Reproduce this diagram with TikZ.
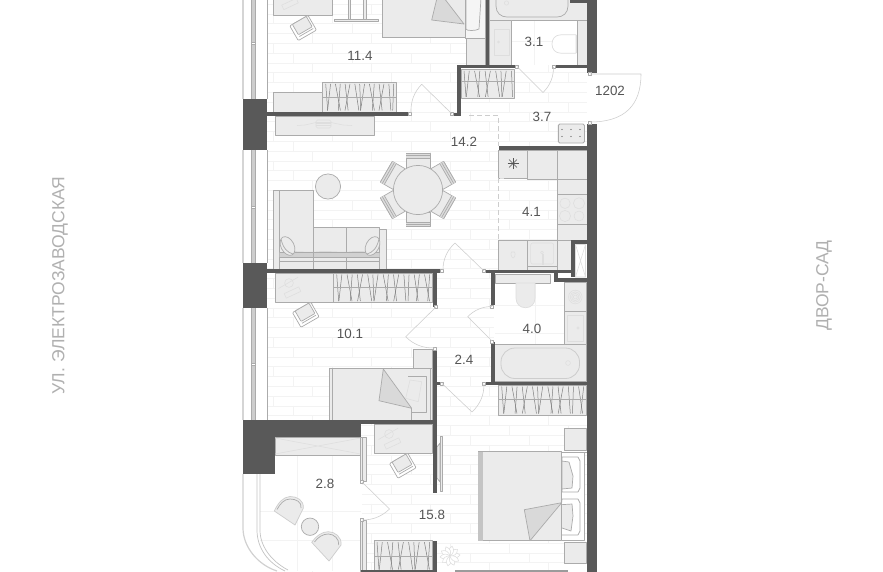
\documentclass[tikz,border=0pt]{standalone}
\usepackage{fontspec}
\setmainfont{Liberation Sans}
\usetikzlibrary{calc}
\definecolor{wallc}{HTML}{595959}
\definecolor{furn}{HTML}{EBEBEB}
\definecolor{linec}{HTML}{ABABAB}
\definecolor{brick}{HTML}{F3F3F3}
\definecolor{txt}{HTML}{555555}
\definecolor{sidetxt}{HTML}{B0B0B0}
\definecolor{hangc}{HTML}{7E7E7E}
\tikzset{
 wallp/.style={fill=wallc,draw=none},
 furnp/.style={fill=furn,draw=linec,line width=.7pt},
 thin line/.style={draw=linec,line width=.7pt},
 fine/.style={draw=linec!130!black,line width=.55pt},
 hangl/.style={draw=hangc,line width=.5pt},
 doorl/.style={draw=linec!120!black,line width=.55pt},
 jambp/.style={fill=white,draw=linec,line width=.6pt},
 label/.style={text=txt,font=\fontsize{13.4}{15}\selectfont,inner sep=0pt},
 sidelabel/.style={text=sidetxt,font=\fontsize{17.5}{19}\selectfont,inner sep=0pt,rotate=90},
}
\newcommand{\swingf}[7]{%
 \coordinate (swH) at (#1,#2); \coordinate (swT) at (#3,#4); \coordinate (swE) at (#5,#6);
 \coordinate (swC) at ($(swH)+#7*(swT)+#7*(swE)-2*#7*(swH)$);
 \draw[doorl] (swH) -- (swT) .. controls ($(swT)!0.667!(swC)$) and ($(swE)!0.667!(swC)$) .. (swE);
 }
\newcommand{\swing}[6]{\swingf{#1}{#2}{#3}{#4}{#5}{#6}{0.586}}
\newcommand{\jamb}[2]{\draw[jambp] (#1-1.7,#2-1.7) rectangle (#1+1.7,#2+1.7);}
\newcommand{\hangers}[5]{% x1 x2 y1 y2 count
 \pgfmathsetmacro{\hstep}{(#2-#1-6)/#5}
 \foreach \i in {0,...,#5}{
  \pgfmathsetmacro{\hx}{#1+3+\i*\hstep}
  \pgfmathsetmacro{\hoff}{{2,-3,5,-2,3,-5,4,1,-4,5,-2,3,-5,2,-1,4,-3,5,-2,2,-3,4,-2,3,-3}[mod(\i,25)]}
  \pgfmathsetmacro{\hxb}{max(#1+2,min(#2-2,\hx+\hoff))}
  \draw[hangl] (\hx,#3+1.5) -- (\hxb,#4-1.5);
 }}
\newcommand{\wardrobe}[6]{% x1 y1 x2 y2 ymid count
 \draw[furnp] (#1,#2) rectangle (#3,#4);
 \hangers{#1}{#3}{#2}{#4}{#6}
 \draw[thin line] (#1,#5) -- (#3,#5);}
\newcommand{\officechair}[2]{%
 \begin{scope}[shift={(#1,#2)},rotate=30]
  \draw[furnp,fill=white,rounded corners=1pt] (-11,-8) rectangle (10,9);
  \draw[furnp,rounded corners=.8pt] (-8,-8) rectangle (8,4);
  \draw[thin line] (-8,6) -- (8,6);
 \end{scope}}
\newcommand{\desklamp}[2]{%
 \draw[fine] (#1,#2) circle (4.4);
 \draw[fine] (#1-10.5,#2+5.5) -- (#1+9,#2-5.8);
 \begin{scope}[shift={(#1+3.5,#2+9.5)},rotate=25]
  \draw[fine,fill=furn] (-8,-2.5) rectangle (8,2.5);
 \end{scope}}
\newcommand{\dinechair}[1]{%
 \begin{scope}[shift={(418,190)},rotate=#1]
  \draw[furnp] (22,-12) rectangle (36.5,12);
  \fill[linec!40] (32,-12) rectangle (36.5,12);
  \draw[thin line] (32,-12) -- (32,12) (34.2,-12) -- (34.2,12) (36.5,-12) -- (36.5,12);
 \end{scope}}
\begin{document}
\begin{tikzpicture}[x=1pt,y=-1pt,line join=round]
\useasboundingbox (0,0) rectangle (883,571);
\fill[white] (0,0) rectangle (883,571);
% brick floor
\begin{scope}
 \clip (267,0) rectangle (587,571);
 \foreach \r in {0,...,58}{
  \pgfmathsetmacro{\yy}{4.1+9.8*\r}
  \draw[brick,line width=.8pt] (267,\yy) -- (587,\yy);
  \pgfmathsetmacro{\ss}{273.3+19.6*mod(\r-4,3)-59}
  \foreach \c in {0,...,6}{
   \pgfmathsetmacro{\xx}{\ss+59*\c}
   \draw[brick,line width=.8pt] (\xx,\yy) -- (\xx,\yy+9.8);
  }
 }
\end{scope}
% tiled rooms
\fill[white] (489,0) rectangle (587,65);
\fill[white] (494,273) rectangle (587,382);
\fill[white] (243,437) rectangle (362,571);
\begin{scope}[brick,line width=.8pt]
 \draw (534,20) -- (534,65) (511,20) -- (577,20);
 \draw (511,41) -- (577,41);
 \draw (535,283) -- (535,345) (495,333) -- (565,333) (495,305) -- (565,305);
 \draw (297.3,455) -- (297.3,571) (332,455) -- (332,571) (260,511) -- (361,511) (260,540) -- (361,540);
\end{scope}
% windows
\foreach \ya/\yb/\ym in {0/99/43,150/263/207,308/420/364}{
 \draw[draw=linec!50,line width=1.6pt] (243,\ya) -- (243,\yb);
 \fill[linec!60] (251.5,\ya) rectangle (254.8,\yb);
 \draw[linec,line width=.5pt] (251.5,\ya) -- (251.5,\yb) (254.8,\ya) -- (254.8,\yb);
 \draw[fill=white,draw=linec,line width=.4pt] (251.5,\ym-1) rectangle (254.8,\ym+1);
 \draw[linec,line width=.8pt] (267.5,\ya) -- (267.5,\yb);
}
% balcony outline
\draw[linec!55,line width=1.2pt] (243,474) -- (243,528) .. controls (243,547) and (258,565) .. (277,571);
\draw[linec!70,line width=.7pt] (257,474) -- (257,530) .. controls (257,548) and (268,563) .. (285,571);
\draw[linec!70,line width=.7pt] (260,474) -- (260,530) .. controls (260,546) and (271,561) .. (288,570);
% ---- top bedroom furniture
\draw[furnp] (273.3,-2) rectangle (332.7,15.3);
\begin{scope}[shift={(290,4)},rotate=25]
 \draw[fine,fill=furn] (-8,-2.5) rectangle (8,2.5);
\end{scope}
\draw[fine] (276,-1) -- (287,-3);
\officechair{303.3}{27.3}
\draw[furnp] (334.5,19) rectangle (378.7,21);
\draw[furnp] (348.5,-2) rectangle (350.8,19);
\draw[furnp] (363.8,-2) rectangle (366,19);
\draw[furnp] (382.7,-2) rectangle (465,37.7);
\draw[thin line] (382.7,-2) -- (382.7,37.7);
\draw[thin line,fill=furn!50] (465,-2) rectangle (485.7,38.7);
\draw[furnp,fill=furn!50] (466,29) .. controls (466,31) and (476,31) .. (479,29) -- (481,-2) -- (466,-2) -- cycle;
\draw[furnp,fill=linec!45] (431.7,20) -- (437,-2) -- (444,-2) -- (464,24) -- cycle;
\draw[furnp] (466.5,38.7) rectangle (485.7,65);
\wardrobe{322.7}{82.3}{396.7}{112}{97}{14}
\draw[furnp] (273.7,92.3) rectangle (322.7,112);
\draw[furnp] (275.7,116) rectangle (374,135.6);
\draw[fine] (297,125.5) -- (305,125) -- (316,122.5) -- (331,122.5) -- (343,125) -- (352,125.5);
\draw[fine,rounded corners=1.5pt] (316,120) rectangle (331,128);
\draw[fine] (316,123.5) -- (331,123.5) (316,125) -- (331,125);
% ---- bath 3.1
\draw[furnp] (489.3,-2) rectangle (587,20);
\draw[furnp,fill=furn] (496,-4) -- (568,-4) -- (568,6) .. controls (568,13) and (563,17) .. (557,17) -- (507,17) .. controls (501,17) and (496,13) .. (496,6) -- cycle;
\draw[fine] (506.5,3) circle (2.2);
\draw[furnp] (577,20) rectangle (587,65);
\draw[furnp] (489.3,20) rectangle (511.5,65);
\draw[fine] (494,29) rectangle (509,55);
\draw[fine] (498.5,42) circle (1.1);
\draw[draw=linec!130!black,fill=white,line width=.7pt] (576,34.8) -- (561,34.8) .. controls (555,34.8) and (552,39) .. (552,44) .. controls (552,49) and (555,53.2) .. (561,53.2) -- (576,53.2) -- cycle;
\draw[line width=1pt,linec!130!black] (576,34.8) -- (576,53.2);
\wardrobe{461}{69.3}{514.5}{98.3}{81.7}{9}
% dots panel
\draw[furnp,rounded corners=1.5pt,line width=.9pt] (558.3,124) rectangle (584.5,143);
\foreach \dx in {0,1,2}\foreach \dy in {0,1}{\fill[txt] (562+\dx*9,129.5+\dy*7) circle (.7);}
% ---- living
\draw[furnp] (273.3,190.7) rectangle (313.5,270);
\draw[thin line] (279.5,190.7) -- (279.5,270);
\draw[furnp] (313.5,227.7) rectangle (379.7,270);
\draw[thin line] (346.7,227.7) -- (346.7,270);
\draw[furnp] (379.7,229) rectangle (386,270);
\fill[linec!55] (279.5,252.5) .. controls (295,250.5) and (300,252) .. (313.5,252) .. controls (325,250.5) and (335,252) .. (346.7,252) .. controls (357,250.5) and (367,252) .. (379.7,252) -- (379.7,257) -- (279.5,257) -- cycle;
\draw[thin line] (279.5,257) -- (379.7,257) (279.5,261.5) -- (379.7,261.5) (279.5,252.5) -- (379.7,252.5);
\draw[thin line] (313.5,227.7) -- (313.5,270);
\begin{scope}[shift={(287.5,246)},rotate=28]
 \draw[furnp] (0,0) ellipse (6.5 and 10);
 \draw[thin line] (-2.5,-9) .. controls (-5,0) and (-3,6) .. (1,9.5);
\end{scope}
\begin{scope}[shift={(372.5,246)},rotate=-28]
 \draw[furnp] (0,0) ellipse (6.5 and 10);
 \draw[thin line] (2.5,-9) .. controls (5,0) and (3,6) .. (-1,9.5);
\end{scope}
\draw[furnp] (328,186.5) circle (12.6);
\foreach \a in {90,150,210,270,330,30}{\dinechair{\a}}
\draw[furnp] (418,190) circle (24.6);
% ---- kitchen
\draw[furnp] (498.7,150) rectangle (527.7,178.3);
\draw[furnp] (527.7,150) rectangle (557.3,179.3);
\draw[furnp] (557.3,150) rectangle (587,179.3);
\draw[furnp] (557.3,179.3) rectangle (587,194.3);
\draw[furnp] (557.3,194.3) rectangle (587,224.3);
\draw[furnp] (557.3,224.3) rectangle (587,240);
\foreach \s in {0,45,90,135}{\draw[txt,line width=.45pt,shift={(513,163.5)},rotate=\s] (-5.5,0) -- (5.5,0);}
\draw[fine] (500,178.5) -- (504,178.5);
\foreach \cx/\cy/\rr in {565/203.3/5.2,579/203.3/5.6,565/216/5.6,579/216/5}{\draw[fine] (\cx,\cy) circle (\rr);}
\draw[furnp] (498.7,240) rectangle (527.7,270);
\draw[furnp] (527.7,240) rectangle (557.3,270);
\draw[furnp] (557.3,240) rectangle (571,270);
\draw[fine,rounded corners=2pt] (530.7,243) rectangle (553.7,264);
\draw[thin line] (527.7,266.5) -- (557.3,266.5);
\draw[fine] (542,252.5) circle (1.5);
\draw[fine] (542,254) -- (542,265) (543,254) -- (543,265);
\draw[fine] (511.5,252) .. controls (510,254) and (512,258) .. (513,258) .. controls (514.5,258) and (516,254) .. (514.5,252) -- cycle;
% shaft
\draw[furn!30,fill=white] (574.7,244) rectangle (586.7,277.5);
\draw[fine] (575.5,244.5) -- (585.5,277) (585.5,244.5) -- (575.5,277) (575.5,244.5) rectangle (585.5,277);
% ---- bathroom 4.0
\draw[furnp] (495,274) rectangle (550,283);
\draw[furnp,draw=linec!130!black] (516,283) -- (516,298) .. controls (516,304) and (520,307.7) .. (525.5,307.7) .. controls (531,307.7) and (535,304) .. (535,298) -- (535,283) -- cycle;
\draw[furnp] (564.3,282) rectangle (586.7,311.7);
\foreach \rr in {2,3.6,5.2,6.8}{\draw[fine,line width=.5pt] (575.3,297) circle (\rr);}
\draw[furnp] (564.3,311.7) rectangle (586.7,344.3);
\draw[fine] (567.7,315) rectangle (583,341);
\draw[fine] (578,328) circle (1.2);
\draw[furnp] (494.7,344.3) rectangle (586.7,381.7);
\draw[furnp,line width=.8pt,draw=linec!120!black,rounded corners=14pt] (501,348) rectangle (579.5,378.5);
\draw[fine] (568,363) circle (2.4);
\wardrobe{498.7}{385}{586.7}{415}{399.3}{16}
% ---- room 10.1
\draw[furnp] (275.7,273) rectangle (333.7,302.7);
\desklamp{289}{283}
\wardrobe{333.7}{273}{432.7}{302.7}{287.3}{18}
\officechair{306}{314}
\draw[furnp] (413.3,349.3) rectangle (432.7,368.3);
\draw[furnp] (329.3,368.3) rectangle (432.7,420);
\draw[thin line] (332,368.3) -- (332,420) (411.7,408) -- (411.7,420) (430.7,368.3) -- (430.7,420);
\draw[thin line] (408,376) -- (426.7,376) -- (426.7,412.7) -- (411.7,412.7);
\draw[fine] (410,380) -- (421.7,381.7) -- (418.3,401.7) -- (405.7,398.3) -- cycle;
\draw[furnp,fill=linec!45] (383.3,369) -- (411.7,408.3) -- (379,400.7) -- cycle;
% ---- balcony
\draw[furnp] (275,437) rectangle (360.7,455);
\draw[fine] (275,438) -- (360.7,454) (275,454) -- (360.7,438);
\draw[furnp] (360.7,437) rectangle (366,481.7);
\draw[thin line] (362.7,437) -- (362.7,481.7);
\draw[furnp] (360.7,520) rectangle (366,571);
\draw[thin line] (362.7,520) -- (362.7,571);
\draw[furnp,draw=linec!120!black] (274.3,511) -- (295,525) -- (303.3,508.3) .. controls (304,500) and (297,496.5) .. (290,496.5) .. controls (283,497) and (278,503) .. (274.3,511) -- cycle;
\draw[thin line] (277,509.5) .. controls (280,504) and (284,499) .. (290,499) .. controls (296,499) and (302,502) .. (301,508);
\draw[furnp,draw=linec!120!black] (311.7,542.3) -- (329,561) -- (341,545) .. controls (342,537) and (335,531.7) .. (328.3,531.7) .. controls (322,531.7) and (316,536) .. (311.7,542.3) -- cycle;
\draw[thin line] (314.5,542) .. controls (318,537) and (323,534) .. (328.3,534) .. controls (334,534) and (339.5,539) .. (338.7,545);
\draw[furnp] (310,526.7) circle (8.7);
% ---- bottom bedroom
\draw[furnp] (374,424) rectangle (432.7,453.3);
\desklamp{389}{434}
\officechair{403}{465}
\draw[furnp] (440,436.7) rectangle (442.7,491);
\draw[furnp] (437,447) -- (440,443) -- (440,482) -- (437,478) -- cycle;
\wardrobe{374}{540.7}{432.7}{571}{556}{10}
\foreach \a in {0,36,...,324}{\draw[fine,fill=white,shift={(450,556)},rotate=\a] (0,0) .. controls (2.5,-3) and (7,-4) .. (10,-1) .. controls (7,3) and (3,2.5) .. (0,0) -- cycle;}
\draw[furnp] (564.3,428.3) rectangle (586.7,450);
\draw[furnp] (564.3,542.3) rectangle (586.7,563.7);
\draw[thin line,fill=white] (561.7,452) rectangle (584,540.7);
\draw[thin line] (584,452) -- (587,452);
\draw[furnp,fill=white] (562,457) -- (578,457) -- (580,461) -- (580,488) -- (578,492) -- (562,492) -- cycle;
\draw[furnp] (562,461) -- (569,462) -- (573,476) -- (572,488) -- (562,489) -- cycle;
\draw[furnp,fill=white] (562,499) -- (578,499) -- (580,503) -- (580,531) -- (578,535) -- (558,535) -- cycle;
\draw[furnp] (556,505) -- (572,504) -- (573,516) -- (571,531) -- (556,526) -- cycle;
\draw[furnp] (478.3,451.7) rectangle (561.7,540.7);
\fill[linec!70] (478.3,451.7) rectangle (482.7,540.7);
\draw[furnp,fill=linec!45] (524.3,509.7) -- (561.7,502.7) -- (530,540.7) -- cycle;
% ---- walls
\fill[wallp] (243,99) rectangle (267,150);
\fill[wallp] (243,263.3) rectangle (267,307.7);
\fill[wallp] (267,112) rectangle (410,115.7);
\fill[wallp] (267,269.3) rectangle (441,273);
\fill[wallp] (432.7,273) rectangle (436.7,307);
\fill[wallp] (432.7,348.3) rectangle (436.7,425);
\fill[wallp] (436.7,382) rectangle (441,385);
\fill[wallp] (243,420) rectangle (436.7,424);
\fill[wallp] (243,424) rectangle (361,437);
\fill[wallp] (243,437) rectangle (275,474);
\fill[wallp] (432.7,424) rectangle (436.7,492.7);
\fill[wallp] (432.7,540.7) rectangle (436.7,571);
\fill[wallp] (485.7,-1) rectangle (489.3,65);
\fill[wallp] (456.7,65) rectangle (515.5,68.3);
\fill[wallp] (456.7,65) rectangle (461,115);
\fill[wallp] (453.5,112.5) rectangle (461,115.5);
\fill[wallp] (554.5,65) rectangle (587,68.3);
\fill[wallp] (570,-1) rectangle (587,2.5);
\fill[wallp] (586.7,-1) rectangle (596.5,73);
\fill[wallp] (586.7,123.5) rectangle (596.5,572);
\fill[wallp] (498.7,146) rectangle (587,150);
\fill[wallp] (485.5,270) rectangle (574.7,273.3);
\fill[wallp] (571,240) rectangle (587,244);
\fill[wallp] (571,240) rectangle (574.7,277.3);
\fill[wallp] (553.5,273) rectangle (557.7,281.7);
\fill[wallp] (553.5,277.5) rectangle (587,281.7);
\fill[wallp] (491,273) rectangle (494.7,305);
\fill[wallp] (491,342.3) rectangle (494.7,385);
\fill[wallp] (485.5,381.7) rectangle (587,385);
\fill[wallp] (360.7,569.5) rectangle (436.7,572);
\fill[wallc!60] (455,569.5) rectangle (568,572);
% dashed zone limit
\draw[linec!120!black,line width=.6pt,dash pattern=on 5pt off 3pt] (469,115.5) -- (498.7,115.5) -- (498.7,146);
\draw[linec!120!black,line width=.6pt,dash pattern=on 5pt off 3pt] (498.7,178) -- (498.7,240);
% jambs
\foreach \jx/\jy in {410/114,452/114,517/66.5,554/66.5,590/73.5,590/123,484/271,442/271,436/307,435/348.5,492/306.5,492/342,442/383.5,484/383.5,362/482,362/520}{\jamb{\jx}{\jy}}
% doors
\swing{452}{114}{421.7}{84.3}{411}{113}
\swing{517}{66.5}{543}{92.5}{553.5}{67}
\swingf{590}{74}{641}{74}{590}{122}{1}
\swing{484}{271}{455}{243}{443}{270}
\swing{436}{307}{405.7}{336.7}{434.5}{348}
\swing{492}{341}{467.7}{316.7}{492}{306.5}
\swing{442}{383.5}{472}{412}{484}{384}
\swing{362}{482}{389.5}{509}{362}{520}
% labels
\node[label] (r1) at (360,55.5) {11.4};
\node[label] (r2) at (534,41.5) {3.1};
\node[label] (r3) at (610,90.5) {1202};
\node[label] (r4) at (542,117) {3.7};
\node[label] (r5) at (464,142) {14.2};
\node[label] (r6) at (531.5,211.5) {4.1};
\node[label] (r7) at (350,334) {10.1};
\node[label] (r8) at (532,329) {4.0};
\node[label] (r9) at (464,360) {2.4};
\node[label] (r10) at (325,484) {2.8};
\node[label] (r11) at (432,515) {15.8};
\node[sidelabel] (s1) at (60,285.5) {УЛ. ЭЛЕКТРОЗАВОДСКАЯ};
\node[sidelabel] (s2) at (824,285.5) {ДВОР-САД};
\end{tikzpicture}
\end{document}
